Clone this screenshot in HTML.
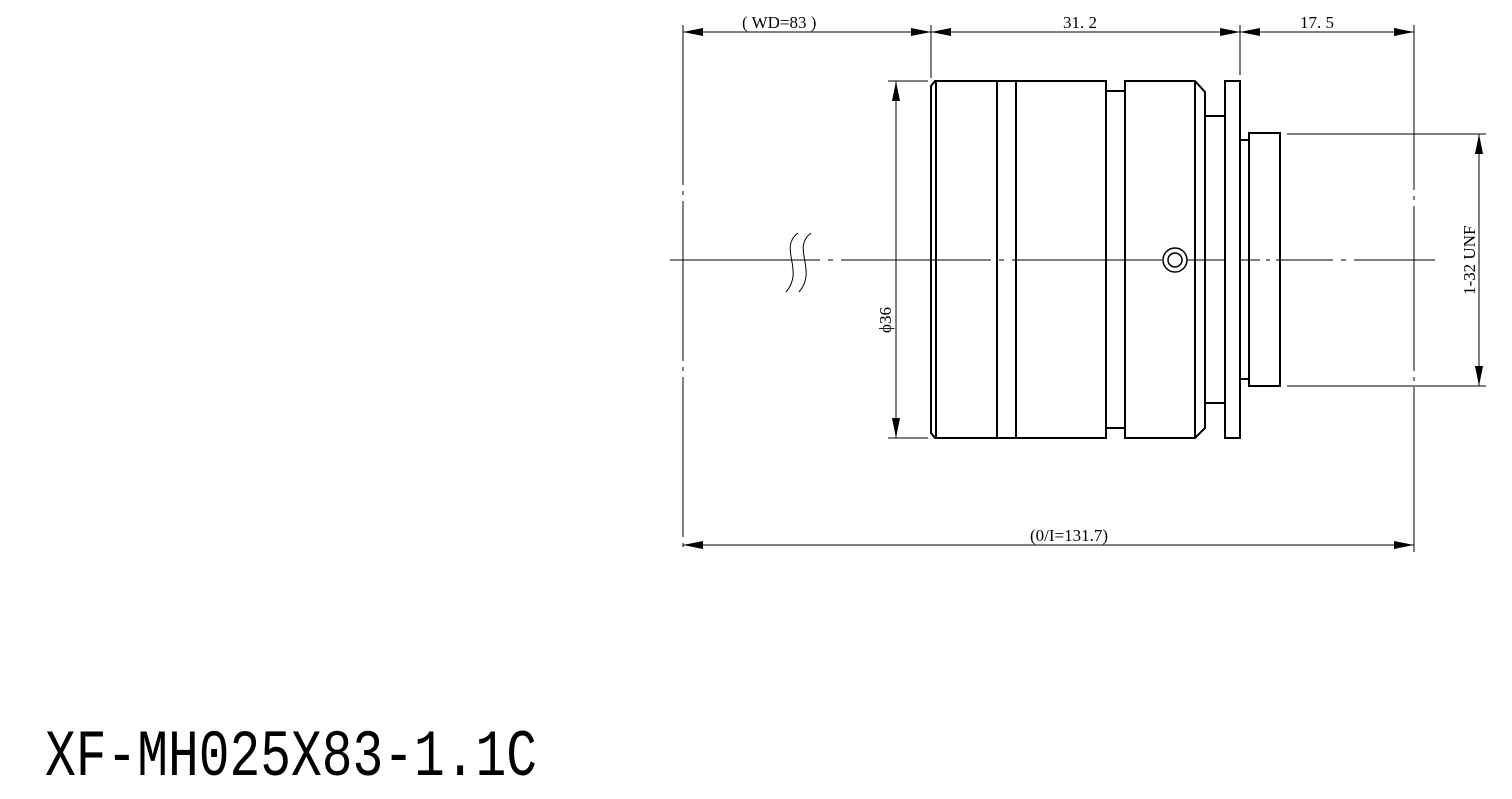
<!DOCTYPE html>
<html><head><meta charset="utf-8"><style>
html,body{margin:0;padding:0;background:#fff;width:1512px;height:799px;overflow:hidden}
svg{display:block}
</style></head><body>
<svg width="1512" height="799" viewBox="0 0 1512 799" xmlns="http://www.w3.org/2000/svg">
<defs>
<marker id="a" viewBox="0 0 20 8" refX="20" refY="4" markerWidth="20" markerHeight="8" markerUnits="userSpaceOnUse" orient="auto-start-reverse"><path d="M0,0 L20,4 L0,8 z" fill="#000"/></marker>
</defs>
<g stroke="#000" fill="none" stroke-width="1">
<line x1="683" y1="25" x2="683" y2="552" stroke-dasharray="160,6,4,6"/>
<line x1="931" y1="25" x2="931" y2="78"/>
<line x1="1240" y1="25" x2="1240" y2="75"/>
<line x1="1414" y1="25" x2="1414" y2="552" stroke-dasharray="165,6,4,6"/>
<line x1="683" y1="32" x2="931" y2="32" marker-start="url(#a)" marker-end="url(#a)"/>
<line x1="931" y1="32" x2="1240" y2="32" marker-start="url(#a)" marker-end="url(#a)"/>
<line x1="1240" y1="32" x2="1414" y2="32" marker-start="url(#a)" marker-end="url(#a)"/>
<line x1="683" y1="545" x2="1414" y2="545" marker-start="url(#a)" marker-end="url(#a)"/>
<line x1="888" y1="81" x2="928" y2="81"/>
<line x1="888" y1="438" x2="928" y2="438"/>
<line x1="896" y1="81" x2="896" y2="438" marker-start="url(#a)" marker-end="url(#a)"/>
<line x1="1287" y1="134" x2="1486" y2="134"/>
<line x1="1287" y1="386" x2="1486" y2="386"/>
<line x1="1479" y1="134" x2="1479" y2="386" marker-start="url(#a)" marker-end="url(#a)"/>
<line x1="670" y1="260" x2="1435" y2="260" stroke-dasharray="150,8,5,8"/>
<path d="M798,233 C778,248 805,270 786,292"/>
<path d="M811,233 C791,248 818,270 799,292"/>
</g>
<g stroke="#000" fill="none" stroke-width="2">
<path d="M935,81 L1106,81 L1106,438 L935,438 L931,433 L931,86 Z"/>
<line x1="936" y1="81" x2="936" y2="438"/>
<line x1="997" y1="81" x2="997" y2="438"/>
<line x1="1016" y1="81" x2="1016" y2="438"/>
<line x1="1106" y1="91" x2="1125" y2="91"/>
<line x1="1106" y1="428" x2="1125" y2="428"/>
<path d="M1125,81 L1195,81 L1205,92 L1205,428 L1195,438 L1125,438 Z"/>
<line x1="1195" y1="81" x2="1195" y2="438"/>
<line x1="1205" y1="116" x2="1225" y2="116"/>
<line x1="1205" y1="403" x2="1225" y2="403"/>
<rect x="1225" y="81" width="15" height="357" fill="#fff"/>
<line x1="1240" y1="140" x2="1249" y2="140"/>
<line x1="1240" y1="379" x2="1249" y2="379"/>
<rect x="1249" y="133" width="31" height="253" fill="#fff"/>
<circle cx="1175" cy="260" r="12" fill="#fff" stroke-width="1.5"/>
<circle cx="1175" cy="260" r="7" stroke-width="1.5"/>
</g>
<line x1="1240" y1="260" x2="1290" y2="260" stroke="#000" stroke-dasharray="20,6,4,6"/>
<g font-family="'Liberation Serif',serif" font-size="17" fill="#000">
<text x="742" y="28">( WD=83 )</text>
<text x="1063" y="28">31. 2</text>
<text x="1300" y="28">17. 5</text>
<text x="1030" y="541">(0/I=131.7)</text>
<text transform="translate(891,333) rotate(-90)">ϕ36</text>
<text transform="translate(1475,295) rotate(-90)">1-32 UNF</text>
</g>
<text transform="translate(45,775) scale(1,1.3)" x="0" y="0" font-family="'Liberation Mono',monospace" font-size="51" textLength="492" lengthAdjust="spacingAndGlyphs" fill="#000">XF-MH025X83-1.1C</text>
</svg>
</body></html>
